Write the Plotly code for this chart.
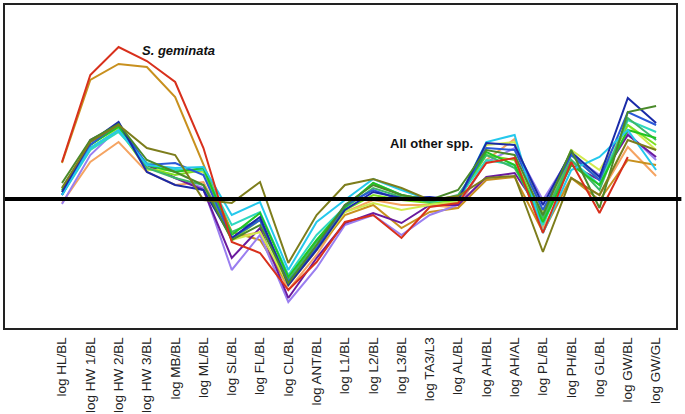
import plotly.graph_objects as go

categories = ["log HL/BL", "log HW 1/BL", "log HW 2/BL", "log HW 3/BL", "log MB/BL", "log ML/BL",
              "log SL/BL", "log FL/BL", "log CL/BL", "log ANT/BL", "log L1/BL", "log L2/BL",
              "log L3/BL", "log TA3/L3", "log AL/BL", "log AH/BL", "log AH/AL", "log PL/BL",
              "log PH/BL", "log GL/BL", "log GW/BL", "log GW/GL"]

# values (arbitrary units, 0 = reference line)
s_geminata   = [0.37, 1.24, 1.52, 1.38, 1.17, 0.51, -0.43, -0.54, -0.91, -0.63, -0.23, -0.16, -0.39, -0.08, -0.04, 0.36, 0.41, -0.34, 0.37, -0.14, 0.42, None]
sp_gold      = [0.36, 1.19, 1.35, 1.32, 1.02, 0.34, -0.33, -0.41, -0.86, -0.51, -0.16, -0.06, -0.29, -0.13, -0.09, 0.19, 0.22, -0.33, 0.21, -0.01, 0.39, 0.34]
sp_olive     = [0.11, 0.57, 0.74, 0.51, 0.44, -0.01, -0.04, 0.17, -0.64, -0.16, 0.14, 0.20, 0.11, -0.01, 0.03, 0.21, 0.23, -0.53, 0.21, 0.04, 0.59, 0.49]
sp_darkgreen = [0.16, 0.59, 0.75, 0.39, 0.27, 0.14, -0.41, -0.26, -0.84, -0.46, -0.06, 0.14, 0.04, -0.01, 0.09, 0.49, 0.44, -0.16, 0.49, -0.09, 0.87, 0.93]
sp_navy      = [0.07, 0.57, 0.77, 0.27, 0.14, 0.09, -0.39, -0.18, -0.86, -0.51, -0.11, 0.07, 0.01, 0.02, -0.01, 0.56, 0.54, -0.06, 0.47, 0.22, 1.01, 0.76]
sp_blue      = [0.04, 0.54, 0.76, 0.34, 0.36, 0.24, -0.39, -0.21, -0.83, -0.49, -0.06, 0.09, -0.01, -0.01, -0.01, 0.51, 0.49, -0.11, 0.44, 0.19, 0.87, 0.74]
sp_purple    = [0.04, 0.59, 0.74, 0.34, 0.21, 0.09, -0.59, -0.29, -0.99, -0.59, -0.24, -0.14, -0.24, -0.06, -0.06, 0.22, 0.26, -0.16, 0.34, 0.19, 0.64, 0.42]
sp_lavender  = [-0.05, 0.44, 0.71, 0.34, 0.21, 0.11, -0.71, -0.36, -1.03, -0.69, -0.26, -0.16, -0.36, -0.16, -0.06, 0.37, 0.51, -0.01, 0.44, 0.24, 0.66, 0.39]
sp_cyan      = [0.04, 0.51, 0.69, 0.34, 0.31, 0.32, -0.16, -0.03, -0.71, -0.23, -0.01, 0.20, 0.09, -0.01, -0.01, 0.57, 0.64, -0.34, 0.29, 0.42, 0.69, 0.29]
sp_teal      = [0.04, 0.49, 0.67, 0.36, 0.29, 0.29, -0.26, -0.13, -0.76, -0.36, -0.08, 0.16, 0.04, -0.03, 0.01, 0.39, 0.34, -0.26, 0.39, 0.14, 0.79, 0.67]
sp_green     = [0.09, 0.54, 0.72, 0.34, 0.27, 0.31, -0.36, -0.14, -0.78, -0.41, -0.08, 0.16, 0.04, -0.01, 0.01, 0.47, 0.34, -0.23, 0.34, 0.14, 0.69, 0.61]
sp_lime      = [0.07, 0.51, 0.69, 0.31, 0.24, 0.29, -0.41, -0.21, -0.84, -0.46, -0.11, 0.04, -0.01, -0.04, -0.01, 0.44, 0.39, -0.21, 0.44, 0.19, 0.74, 0.54]
sp_yellow    = [0.09, 0.49, 0.71, 0.29, 0.29, 0.27, -0.41, -0.33, -0.86, -0.51, -0.13, -0.04, -0.11, -0.06, -0.03, 0.54, 0.57, -0.13, 0.49, 0.29, 0.74, 0.49]
sp_salmon    = [-0.04, 0.37, 0.57, 0.27, 0.14, 0.17, -0.39, -0.33, -0.91, -0.56, -0.13, -0.01, -0.06, -0.06, -0.09, 0.39, 0.60, -0.29, 0.21, 0.04, 0.52, 0.23]
sp_seagreen  = [0.11, 0.54, 0.73, 0.31, 0.21, 0.14, -0.33, -0.21, -0.81, -0.43, -0.09, 0.11, 0.02, -0.03, 0.04, 0.44, 0.31, -0.19, 0.39, 0.09, 0.81, 0.59]

series = [
    (sp_salmon, "#f5a462"), (sp_gold, "#c8901e"), (sp_lavender, "#9a7ef0"), (sp_purple, "#6a1a9e"),
    (sp_yellow, "#d2ea4e"), (sp_lime, "#7ee022"), (sp_teal, "#2ed8c0"), (sp_seagreen, "#3cb86a"),
    (sp_green, "#22c422"), (sp_blue, "#2a58d8"), (sp_cyan, "#25c8ec"), (sp_navy, "#1a2aa8"),
    (sp_darkgreen, "#4a8a2a"), (sp_olive, "#7d7d1c"), (s_geminata, "#d8301c"),
]

fig = go.Figure()
for vals, col in series:
    fig.add_trace(go.Scatter(x=categories, y=vals, mode="lines",
                             line=dict(color=col, width=2), connectgaps=False,
                             hoverinfo="skip", showlegend=False))

W, H = 685, 414
L, R, T, B = 5, 9, 5, 86
n = len(categories)
step = 28.29
first_px = 62
left_rng = -(first_px - L) / step
right_rng = (n - 1) + (W - R - (first_px + step * (n - 1))) / step

fig.update_layout(
    width=W, height=H,
    margin=dict(l=L, r=R, t=T, b=B, autoexpand=False),
    paper_bgcolor="white", plot_bgcolor="white",
    font=dict(family="Liberation Sans, Arial, sans-serif", color="#222"),
    xaxis=dict(type="category", range=[left_rng, right_rng], showgrid=False, zeroline=False,
               showline=True, linecolor="#222", linewidth=1.5, mirror=True, automargin=False,
               tickangle=-90, tickfont=dict(size=13.5, color="#222"), ticks="", ticklabelstandoff=2),
    yaxis=dict(range=[-1.29, 1.94], showgrid=False, zeroline=False, showticklabels=False,
               showline=True, linecolor="#222", linewidth=1.5, mirror=True, ticks=""),
    shapes=[dict(type="line", xref="paper", yref="y", x0=0, x1=1.008, y0=0, y1=0,
                 line=dict(color="black", width=4), layer="above")],
    annotations=[
        dict(text="<b><i>S. geminata</i></b>", xref="paper", yref="paper", x=0.258, y=0.858,
             xanchor="center", yanchor="middle", showarrow=False, font=dict(size=13, color="#111")),
        dict(text="<b>All other spp.</b>", xref="paper", yref="paper", x=0.636, y=0.570,
             xanchor="center", yanchor="middle", showarrow=False, font=dict(size=13, color="#111")),
    ],
)

fig.write_html("out.html", config={"displayModeBar": False},
               post_script="document.body.style.margin='0';document.body.style.overflow='hidden';")
